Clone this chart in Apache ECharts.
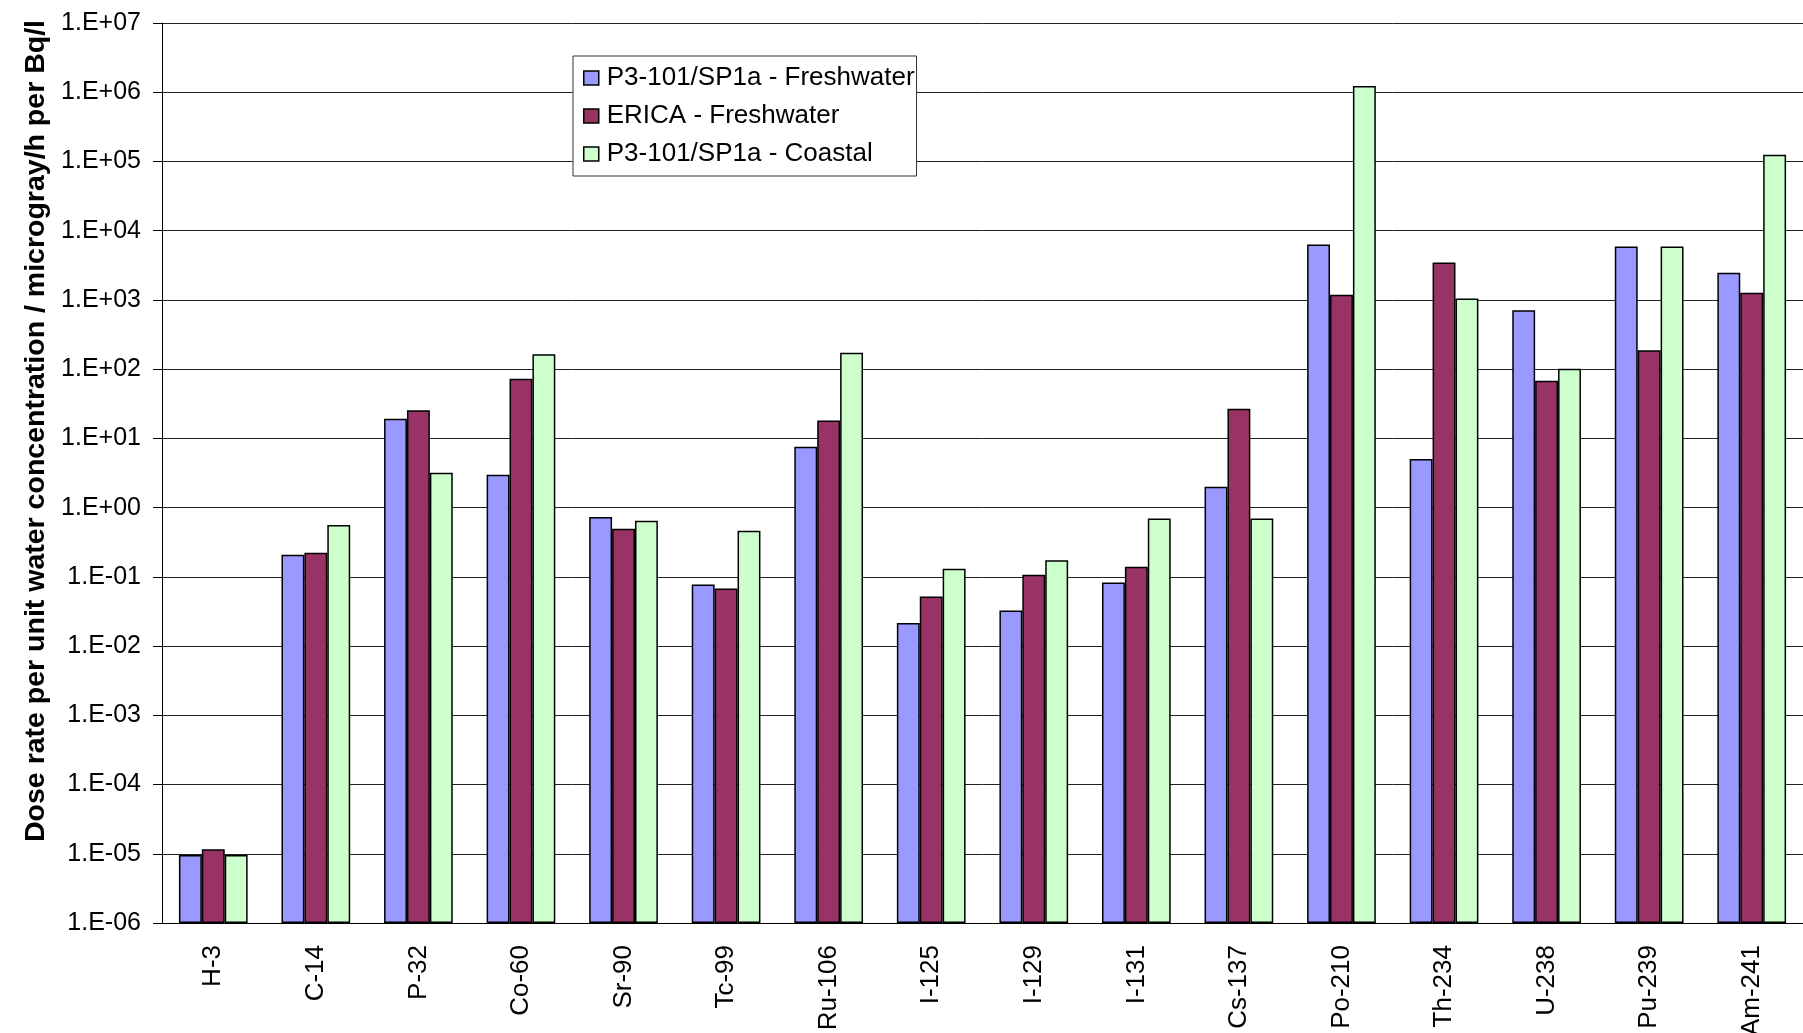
<!DOCTYPE html>
<html>
<head>
<meta charset="utf-8">
<title>Dose rate per unit water concentration</title>
<script src="https://cdn.jsdelivr.net/npm/echarts@6/dist/echarts.min.js"></script>
<style>
  html, body { margin: 0; padding: 0; background: #fff; }
  #chart { width: 1803px; height: 1033px; }
</style>
</head>
<body>
<div id="chart"></div>
<script>
// radionuclides along the x axis
const nuclides = ['H-3', 'C-14', 'P-32', 'Co-60', 'Sr-90', 'Tc-99', 'Ru-106', 'I-125',
  'I-129', 'I-131', 'Cs-137', 'Po-210', 'Th-234', 'U-238', 'Pu-239', 'Am-241'];

const seriesNames = ['P3-101/SP1a - Freshwater', 'ERICA - Freshwater', 'P3-101/SP1a - Coastal'];

// dose rate per unit water concentration (microgray/h per Bq/l)
const p3Freshwater = [9.6e-6, 0.208, 19.2, 2.98, 0.73, 0.0777, 7.57, 0.0216,
  0.0327, 0.083, 2.0, 6340, 5.04, 708, 5930, 2470];
const ericaFreshwater = [1.16e-5, 0.222, 25.4, 72.7, 0.494, 0.068, 18.2, 0.052,
  0.107, 0.14, 26.8, 1185, 3480, 68, 187, 1267];
const p3Coastal = [9.6e-6, 0.56, 3.18, 164, 0.645, 0.462, 172, 0.131,
  0.173, 0.698, 0.698, 1.23e6, 1050, 101, 5930, 1.25e5];

const colors = ['#9999FF', '#993366', '#CCFFCC'];

const FONT = "'Liberation Sans', Arial, sans-serif";

const chart = echarts.init(document.getElementById('chart'));

// Excel-style exponent labels: 1.E+07, 1.E-06
const expLabel = (v) => {
  const e = Math.round(Math.log10(v));
  const s = String(Math.abs(e)).padStart(2, '0');
  return '1.E' + (e < 0 ? '-' : '+') + s;
};

const makeSeries = (name, data, color) => ({
  name: name,
  type: 'bar',
  data: data,
  barGap: '0%',
  barCategoryGap: '33%',
  itemStyle: { color: color, borderColor: '#000', borderWidth: 1.5 }
});

const option = {
  animation: false,
  backgroundColor: '#fff',
  textStyle: { fontFamily: FONT },
  grid: { left: 162, top: 23, right: 0, bottom: 110, outerBoundsMode: 'none' },
  legend: {
    orient: 'vertical',
    left: 573,
    top: 56,
    padding: [9, 2, 9, 10],
    itemGap: 12,
    itemWidth: 15,
    itemHeight: 14,
    icon: 'rect',
    backgroundColor: '#fff',
    borderColor: '#333',
    borderWidth: 1,
    borderRadius: 0,
    itemStyle: { borderColor: '#000', borderWidth: 1.5 },
    textStyle: { fontFamily: FONT, fontSize: 26, color: '#000', padding: [0, 0, 0, 3] },
    data: seriesNames
  },
  xAxis: {
    type: 'category',
    data: nuclides,
    axisLine: { lineStyle: { color: '#000', width: 1 } },
    axisTick: { length: 8, lineStyle: { color: '#000' } },
    axisLabel: { rotate: 90, margin: 22, fontSize: 26, color: '#000', fontFamily: FONT }
  },
  yAxis: {
    type: 'log',
    logBase: 10,
    min: 1e-6,
    max: 1e7,
    interval: 1,
    startValue: 1e-6,
    name: 'Dose rate per unit water concentration / microgray/h per Bq/l',
    nameLocation: 'middle',
    nameGap: 111,
    nameTextStyle: {
      fontFamily: FONT, fontSize: 28.5, fontWeight: 'bold', color: '#000',
      padding: [0, 0, 0, 84]
    },
    axisLine: { show: true, lineStyle: { color: '#000', width: 1 } },
    axisTick: { show: true, length: 9, lineStyle: { color: '#000' } },
    axisLabel: { margin: 21, fontSize: 25, color: '#000', fontFamily: FONT, formatter: expLabel },
    splitLine: { show: true, lineStyle: { color: '#222', width: 1 } },
    minorTick: { show: false }
  },
  series: [
    makeSeries(seriesNames[0], p3Freshwater, colors[0]),
    makeSeries(seriesNames[1], ericaFreshwater, colors[1]),
    makeSeries(seriesNames[2], p3Coastal, colors[2])
  ]
};

chart.setOption(option);
window.addEventListener('resize', () => chart.resize());
</script>
</body>
</html>
